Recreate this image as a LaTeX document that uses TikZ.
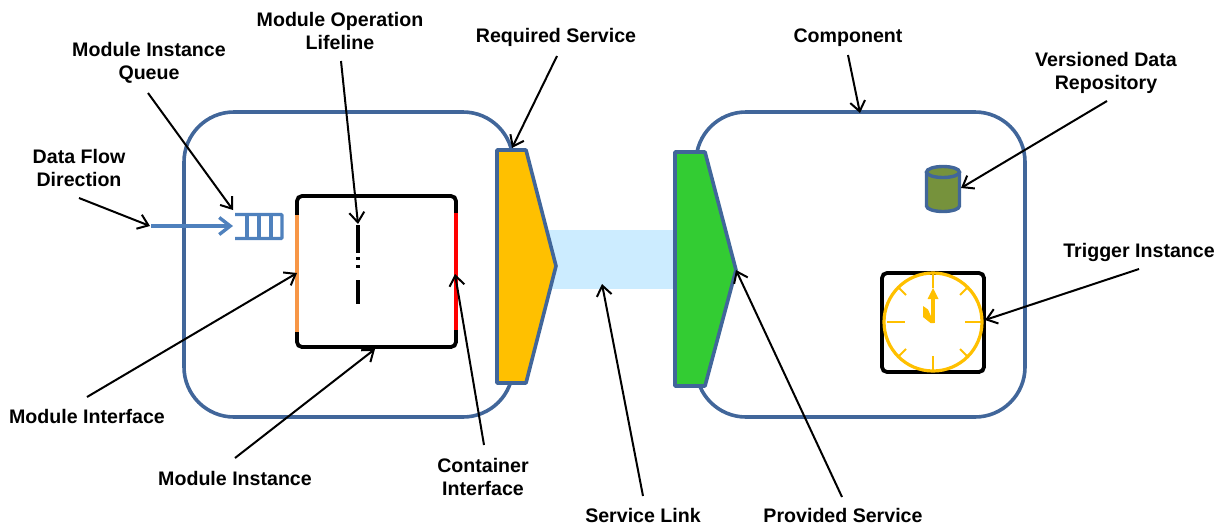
\documentclass[tikz,border=0pt]{standalone}
\usepackage{fontspec}
\setmainfont{Liberation Sans}
\usetikzlibrary{arrows.meta}
\definecolor{edgeblue}{HTML}{41669A}
\definecolor{flowblue}{HTML}{4F81BD}
\definecolor{linkblue}{HTML}{CCECFF}
\definecolor{gold}{HTML}{FFC000}
\definecolor{leaf}{HTML}{33CC33}
\definecolor{moss}{HTML}{76923C}
\definecolor{amber}{HTML}{F79646}
\tikzset{
  lbl/.style={font=\bfseries\fontsize{19.6pt}{23pt}\selectfont,align=center,inner sep=0pt,text=black},
  pointer/.style={draw=black,line width=2pt,-{Straight Barb[length=10pt,width=15pt,line width=2pt]}},
  comp/.style={draw=edgeblue,line width=3.6pt,rounded corners=50pt},
  svc/.style={draw=edgeblue,line width=3.6pt,line join=round},
  frame/.style={draw=black,line width=3.8pt,rounded corners=5pt},
  tick/.style={draw=gold,line width=2pt},
}
\begin{document}
\begin{tikzpicture}[x=1pt,y=-1pt]
\useasboundingbox (0,0) rectangle (1223,528);
% components
\draw[comp] (184,112) rectangle (513,417);
\draw[comp] (696,112) rectangle (1025,417);
% service link
\node[fill=linkblue,inner sep=0pt,minimum width=130pt,minimum height=59pt] (link) at (613,259.5) {};
% services
\draw[svc,fill=gold] (497,150) -- (526,150) -- (556,266) -- (526,383) -- (497,383) -- cycle;
\draw[svc,fill=leaf] (675,152) -- (705,152) -- (736,270) -- (705,386) -- (675,386) -- cycle;
% module instance
\draw[frame] (297,196) rectangle (456,347);
\draw[draw=amber,line width=3.8pt] (297,215) -- (297,332);
\draw[draw=red,line width=3.8pt] (456,213) -- (456,330);
% lifeline
\draw[line width=3.8pt] (358,225) -- (358,253);
\draw[line width=3.8pt] (358,257) -- (358,260);
\draw[line width=3.8pt] (358,265) -- (358,267.5);
\draw[line width=3.8pt] (358,280) -- (358,304);
% queue
\draw[draw=flowblue,line width=3.4pt,rounded corners=1pt] (235,214.5) -- (282,214.5) -- (282,238.5) -- (235,238.5);
\foreach \qx in {247,259,271} \draw[draw=flowblue,line width=3.2pt] (\qx,214) -- (\qx,239);
\coordinate (flowS) at (151,226);
\coordinate (flowE) at (233,226);
\draw[draw=flowblue,line width=3.4pt,-{Straight Barb[length=11pt,width=17pt,line width=3.4pt]}] (flowS) -- (flowE);
% cylinder
\draw[draw=edgeblue,line width=3.4pt,fill=moss] (926.5,172) -- (926.5,206) arc[start angle=180,end angle=360,x radius=16.5pt,y radius=5.5pt] -- (959.5,172);
\draw[draw=edgeblue,line width=3.4pt,fill=moss] (943,172) ellipse[x radius=16.5pt,y radius=5.5pt];
% trigger
\draw[frame] (882,273) rectangle (984,372);
\draw[draw=gold,line width=3.2pt] (933,322) circle[radius=49pt];
\draw[tick] (933,273) -- (933,288);
\draw[tick] (933,356) -- (933,371);
\draw[tick] (887,322) -- (905,322);
\draw[tick] (965,322) -- (981,322);
\draw[tick] (899,288) -- (906,295);
\draw[tick] (967,288) -- (960,295);
\draw[tick] (899,356) -- (906,349);
\draw[tick] (967,356) -- (960,349);
\draw[draw=gold,line width=3.2pt] (933,323) -- (933,297);
\fill[gold] (933,288) -- (938.5,299) -- (927.5,299) -- cycle;
\fill[gold] (923,306) -- (928,309.5) -- (934,323) -- (930.5,323) -- (923,317) -- cycle;
% labels
\node[lbl] (lOp) at (340,30.5) {Module Operation\\Lifeline};
\node[lbl] (lQueue) at (149,63) {Module Instance\\Queue};
\node[lbl] (lFlow) at (79,167.5) {Data Flow\\Direction};
\node[lbl] (lReq) at (556,37.5) {Required Service};
\node[lbl] (lComp) at (848,37.5) {Component};
\node[lbl] (lRepo) at (1106,72.5) {Versioned Data\\Repository};
\node[lbl] (lTrig) at (1139,252) {Trigger Instance};
\node[lbl] (lIface) at (87,416) {Module Interface};
\node[lbl] (lInst) at (235,478) {Module Instance};
\node[lbl] (lCont) at (483,476.5) {Container\\Interface};
\node[lbl] (lLink) at (643,515) {Service Link};
\node[lbl] (lProv) at (843,515) {Provided Service};
% pointer ends
\coordinate (tFlow) at (150,226);
\coordinate (tQueue) at (233,210);
\coordinate (tOp) at (358,224);
\coordinate (tReq) at (512,148);
\coordinate (tComp) at (860,113);
\coordinate (tRepo) at (961,188);
\coordinate (tTrig) at (985,320);
\coordinate (tProv) at (736,270);
\coordinate (tLink) at (602,284);
\coordinate (tCont) at (455,274);
\coordinate (tInst) at (375,349);
\coordinate (tIface) at (297,273);
% pointers
\draw[pointer] (lFlow.center) ++(0,30.5) -- (tFlow);
\draw[pointer] (lQueue.center) ++(-1,30) -- (tQueue);
\draw[pointer] (lOp.center) ++(1,30.5) -- (tOp);
\draw[pointer] (lReq.center) ++(1,18.5) -- (tReq);
\draw[pointer] (lComp.center) ++(0,17.5) -- (tComp);
\draw[pointer] (lRepo.center) ++(1,28.5) -- (tRepo);
\draw[pointer] (lTrig.center) ++(0,17) -- (tTrig);
\draw[pointer] (lProv.center) ++(-1,-18) -- (tProv);
\draw[pointer] (lLink.center) ++(0,-19) -- (tLink);
\draw[pointer] (lCont.center) ++(1,-31.5) -- (tCont);
\draw[pointer] (lInst.center) ++(0,-20) -- (tInst);
\draw[pointer] (lIface.center) ++(0,-19) -- (tIface);
\end{tikzpicture}
\end{document}
